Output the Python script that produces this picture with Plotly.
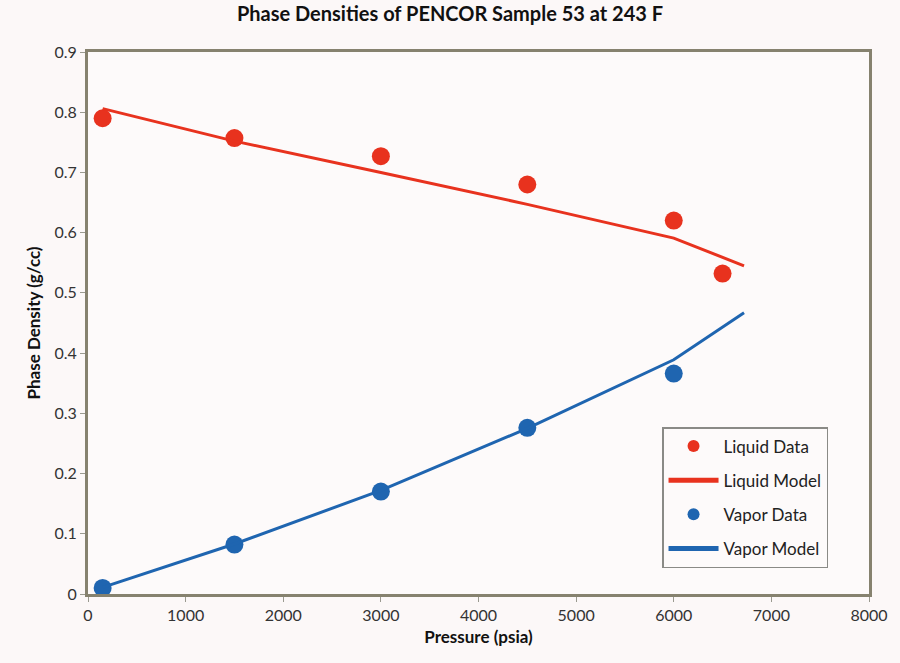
import plotly.graph_objects as go

# Measured phase densities (g/cc) vs pressure (psia)
liquid_p = [150, 1500, 3000, 4500, 6000, 6500]
liquid_rho = [0.790, 0.757, 0.727, 0.680, 0.620, 0.532]

vapor_p = [150, 1500, 3000, 4500, 6000]
vapor_rho = [0.010, 0.082, 0.170, 0.276, 0.366]

# EOS model predictions
model_p = [150, 1500, 3000, 4500, 6000, 6720]
liquid_model = [0.806, 0.752, 0.700, 0.647, 0.591, 0.545]
vapor_model = [0.011, 0.083, 0.172, 0.275, 0.389, 0.467]

x_ticks = [0, 1000, 2000, 3000, 4000, 5000, 6000, 7000, 8000]
y_ticks = [0, 0.1, 0.2, 0.3, 0.4, 0.5, 0.6, 0.7, 0.8, 0.9]

RED = "#e8321e"
BLUE = "#1f65b0"
FONT = "Lato"

fig = go.Figure()
fig.add_trace(go.Scatter(x=liquid_p, y=liquid_rho, mode="markers", name="Liquid Data",
                         legendgroup="ld", marker=dict(color=RED, size=18)))
fig.add_trace(go.Scatter(x=model_p, y=liquid_model, mode="lines", name="Liquid Model",
                         legendgroup="lm", line=dict(color=RED, width=3)))
fig.add_trace(go.Scatter(x=vapor_p, y=vapor_rho, mode="markers", name="Vapor Data",
                         legendgroup="vd", marker=dict(color=BLUE, size=18)))
fig.add_trace(go.Scatter(x=model_p, y=vapor_model, mode="lines", name="Vapor Model",
                         legendgroup="vm", line=dict(color=BLUE, width=3)))

axis_common = dict(showgrid=False, zeroline=False, showline=True, mirror=True,
                   linecolor="#86826f", linewidth=3, ticks="outside", ticklen=5,
                   tickcolor="#9a9a90", tickfont=dict(family=FONT, size=16, color="#333333"))

fig.update_layout(
    width=900, height=663,
    paper_bgcolor="#fcf8f8", plot_bgcolor="#fdfafa",
    margin=dict(l=88, r=19, t=52, b=69),
    title=dict(text="<b>Phase Densities of PENCOR Sample 53 at 243 F</b>",
               x=0.5, xanchor="center", y=0.99, yanchor="top",
               font=dict(family=FONT, size=20, color="#111111")),
    xaxis=dict(range=[0, 8000], tickvals=x_ticks,
               title=dict(text="<b>Pressure (psia)</b>", standoff=8,
                          font=dict(family=FONT, size=17, color="#111111")),
               **axis_common),
    yaxis=dict(range=[0, 0.9], tickvals=y_ticks, ticktext=["0"] + [f"{v:.1f}" for v in y_ticks[1:]],
               title=dict(text="<b>Phase Density (g/cc)</b>", standoff=10,
                          font=dict(family=FONT, size=17, color="#111111")),
               **axis_common),
    legend=dict(x=0.735, y=0.308, xanchor="left", yanchor="top",
                bgcolor="#fdfafa", bordercolor="#8a8a86", borderwidth=1.5,
                font=dict(family=FONT, size=17, color="#222222"),
                itemsizing="constant", itemwidth=50, tracegroupgap=9),
    showlegend=True,
)

fig.write_html("out.html")
